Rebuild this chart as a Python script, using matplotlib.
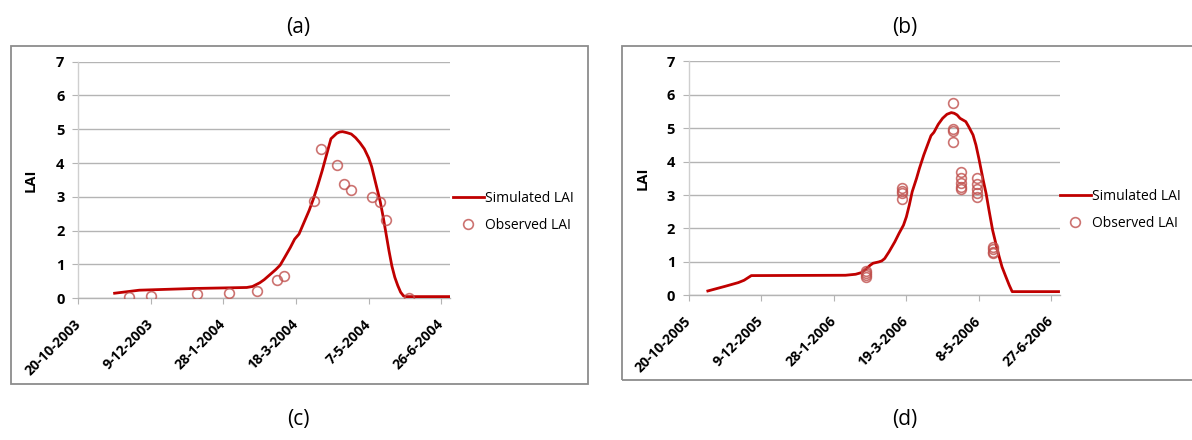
import matplotlib
matplotlib.use("Agg")
import matplotlib.pyplot as plt
import pandas as pd
from matplotlib.patches import Rectangle

plt.rcParams['font.family'] = ['Open Sans', 'DejaVu Sans']

# ---- Season 2003-2004 (days counted from 20-10-2003) -------------------
season_a_start = "2003-10-20"
sim_a_day = [25, 42, 79, 116, 120, 125, 128, 132, 136, 139, 142, 146, 149, 152,
             156, 159, 162, 165, 168, 171, 174, 176, 178, 180, 182, 185, 188,
             191, 194, 197, 200, 202, 204, 206, 208, 210, 212, 214, 216, 218,
             220, 222, 224, 226, 256]
sim_a_lai = [0.15, 0.24, 0.29, 0.32, 0.35, 0.46, 0.55, 0.70, 0.85, 0.98, 1.20,
             1.50, 1.75, 1.90, 2.30, 2.60, 2.95, 3.35, 3.78, 4.25, 4.72, 4.80,
             4.88, 4.92, 4.93, 4.90, 4.86, 4.75, 4.60, 4.42, 4.15, 3.90, 3.55,
             3.20, 2.85, 2.40, 1.90, 1.40, 0.95, 0.62, 0.38, 0.18, 0.07, 0.05,
             0.05]

obs_a_day = [35, 50, 82, 104, 123, 137, 142, 162, 167, 178, 183, 188, 202, 208,
             212, 228]
obs_a_lai = [0.05, 0.07, 0.12, 0.15, 0.22, 0.54, 0.67, 2.88, 4.41, 3.93,
             3.38, 3.19, 3.00, 2.84, 2.31, 0.01]

ticks_a = ["20-10-2003", "9-12-2003", "28-1-2004", "18-3-2004", "7-5-2004", "26-6-2004"]

# ---- Season 2005-2006 (days counted from 20-10-2005) -------------------
season_b_start = "2005-10-20"
sim_b_day = [13, 25, 34, 38, 43, 108, 115, 119, 122, 125, 127, 131, 133, 135,
             138, 142, 145, 148, 150, 152, 154, 157, 159, 162, 165, 167, 169,
             172, 175, 178, 181, 183, 185, 187, 189, 191, 193, 196, 198, 200,
             203, 205, 207, 209.5, 212, 214, 216, 218.6, 221, 223, 255]
sim_b_lai = [0.13, 0.27, 0.38, 0.45, 0.59, 0.60, 0.63, 0.68, 0.78, 0.90, 0.96,
             1.00, 1.03, 1.10, 1.30, 1.60, 1.86, 2.10, 2.35, 2.70, 3.10, 3.50,
             3.80, 4.20, 4.55, 4.78, 4.88, 5.12, 5.30, 5.42, 5.47, 5.45, 5.40,
             5.30, 5.25, 5.20, 5.05, 4.80, 4.50, 4.10, 3.45, 3.05, 2.55, 1.95,
             1.50, 1.16, 0.85, 0.56, 0.30, 0.11, 0.11]

obs_b_day = [122] * 4 + [147] * 4 + [182] * 4 + [188] * 5 + [199] * 5 + [210] * 4
obs_b_lai = [0.72, 0.66, 0.60, 0.55,
             3.20, 3.12, 3.05, 2.88,
             5.75, 4.97, 4.93, 4.60,
             3.68, 3.52, 3.35, 3.25, 3.17,
             3.50, 3.33, 3.17, 3.05, 2.95,
             1.46, 1.38, 1.30, 1.26]

ticks_b = ["20-10-2005", "9-12-2005", "28-1-2006", "19-3-2006", "8-5-2006", "27-6-2006"]

panel_titles = ["(a)", "(b)"]
panel_captions = ["(c)", "(d)"]
sim_label = "Simulated LAI"
obs_label = "Observed LAI"
y_label = "LAI"

W, H = 1192, 440
LINE_RED = "#c00000"
OBS_RED = "#c0504d"
GRID = "#b4b4b4"


def px_rect(x0, y0, x1, y1):
    """Figure-fraction rectangle from pixel corners (top-left origin)."""
    return [x0 / W, 1 - y1 / H, (x1 - x0) / W, (y1 - y0) / H]


def to_dates(start, days):
    return pd.Timestamp(start) + pd.to_timedelta(days, unit="D")


def draw_panel(rect, start, sim_d, sim_v, obs_d, obs_v, tick_labels, legend_xy, ylabel_x):
    ax = fig.add_axes(rect)
    ticks = pd.to_datetime(tick_labels, format="%d-%m-%Y")
    ax.plot(to_dates(start, sim_d), sim_v, color=LINE_RED, lw=2.0,
            label=sim_label, zorder=3, solid_joinstyle="round")
    ax.plot(to_dates(start, obs_d), obs_v, linestyle="none", marker="o", ms=7,
            mfc="none", mec=OBS_RED, mew=1.2, alpha=0.8, label=obs_label, zorder=4)

    ax.set_xlim(ticks[0], ticks[0] + pd.Timedelta(days=256))
    ax.set_xticks(ticks)
    ax.set_xticklabels(tick_labels, rotation=45, ha="right", va="center",
                       rotation_mode="anchor", fontweight="bold", fontsize=10)
    ax.set_ylim(0, 7)
    ax.set_yticks(range(0, 8))
    ax.set_yticklabels([str(v) for v in range(0, 8)], fontweight="bold", fontsize=10.5)

    ax.grid(axis="y", color=GRID, lw=1.0)
    ax.set_axisbelow(True)
    for s in ("top", "right"):
        ax.spines[s].set_visible(False)
    ax.spines["left"].set_color("#cfcfcf")
    ax.spines["bottom"].set_color(GRID)
    ax.spines["left"].set_linewidth(1.0)
    ax.spines["bottom"].set_linewidth(1.0)
    ax.tick_params(axis="y", length=4, color=GRID, pad=6)
    ax.tick_params(axis="x", length=4, color=GRID, pad=13)

    ax.set_ylabel(y_label, fontweight="bold", fontsize=10.5)
    ax.yaxis.set_label_coords(ylabel_x, 0.5)

    fig.legend(handles=ax.get_lines(), loc="upper left",
               bbox_to_anchor=(legend_xy[0] / W, 1 - legend_xy[1] / H),
               frameon=False, fontsize=10, handlelength=2.2, handletextpad=0.1,
               labelspacing=0.85, borderpad=0, borderaxespad=0)
    return ax


fig = plt.figure(figsize=(W / 100, H / 100), dpi=100)

draw_panel(px_rect(78.3, 61.7, 450, 298.3), season_a_start, sim_a_day, sim_a_lai,
           obs_a_day, obs_a_lai, ticks_a, (453, 191), -0.11)
draw_panel(px_rect(689, 61.5, 1060, 295.3), season_b_start, sim_b_day, sim_b_lai,
           obs_b_day, obs_b_lai, ticks_b, (1060, 189), -0.107)

# frames round each chart
for x0, y0, x1, y1 in [(10.7, 45.7, 588, 383.7), (621.7, 45.7, 1196, 380)]:
    fig.add_artist(Rectangle((x0 / W, 1 - y1 / H), (x1 - x0) / W, (y1 - y0) / H,
                             transform=fig.transFigure, fill=False,
                             ec="#8c8c8c", lw=1.3))

for label, cx in zip(panel_titles, (298, 905)):
    fig.text(cx / W, 1 - 28 / H, label, ha="center", va="center", fontsize=15)
for label, cx in zip(panel_captions, (298, 905)):
    fig.text(cx / W, 1 - 419 / H, label, ha="center", va="center", fontsize=15)

fig.savefig("out.png", dpi=100)
